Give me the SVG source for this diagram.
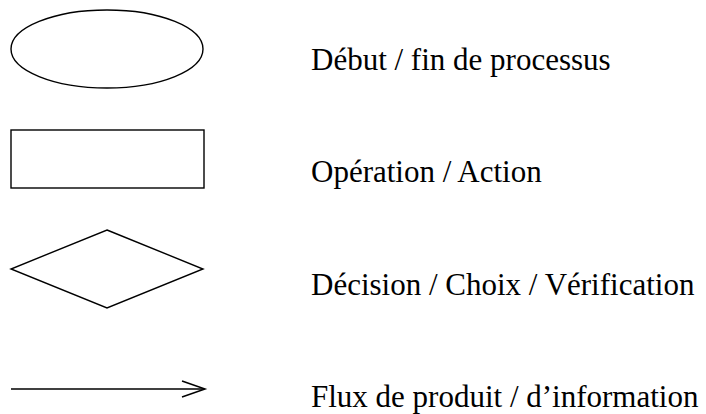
<svg xmlns="http://www.w3.org/2000/svg" width="706" height="414" viewBox="0 0 706 414">
<style>
.s{fill:#fff;stroke:#000;stroke-width:1.4}
.c{fill:none;stroke:#000;stroke-width:1.5}
.t{font-family:"Liberation Serif","Times New Roman",serif;font-size:31px;fill:#000}
</style>
<rect width="706" height="414" fill="#fff"/>
<g id="node-ellipse"><ellipse class="s" cx="107" cy="49" rx="96" ry="39"/></g>
<g id="node-rect"><rect class="s" x="11" y="130" width="193" height="58"/></g>
<g id="node-diamond"><polygon class="s" points="107,230 203,269 107,308 11,269"/></g>
<g id="connectors"><line class="c" x1="11" y1="389" x2="204" y2="389"/><polyline class="c" points="182,381 205,389 182,397"/></g>
<g id="labels">
<text class="t" x="311" y="70">Début / fin de processus</text>
<text class="t" x="311" y="182">Opération / Action</text>
<text class="t" x="311" y="295">Décision / Choix / Vérification</text>
<text class="t" x="311" y="407">Flux de produit / d’information</text>
</g>
</svg>
